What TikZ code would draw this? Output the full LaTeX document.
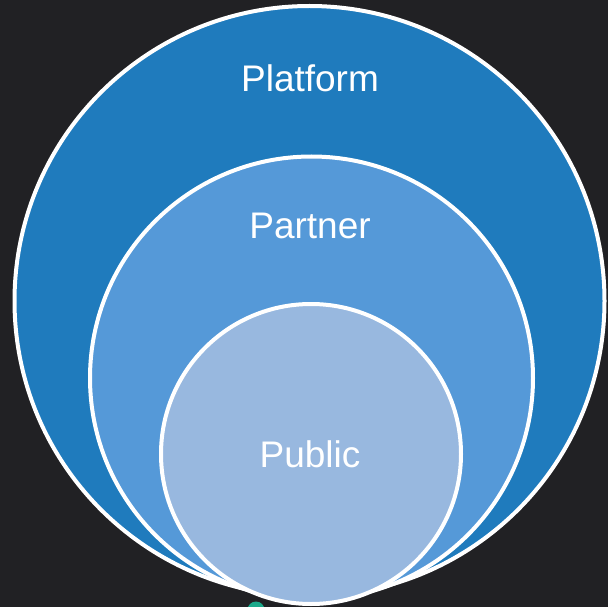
\documentclass[tikz,border=0pt]{standalone}
\usepackage{fontspec}
\setmainfont{Liberation Sans}
\definecolor{bgc}{HTML}{212124}
\definecolor{outerc}{HTML}{1F7BBD}
\definecolor{midc}{HTML}{5599D8}
\definecolor{innerc}{HTML}{98B8DF}
\definecolor{dotc}{HTML}{1BA98A}
\begin{document}
\begin{tikzpicture}[x=1pt,y=-1pt,
  ring/.style={circle, draw=white, line width=4pt, inner sep=0pt, outer sep=0pt},
  lbl/.style={anchor=base, text=white, font=\fontsize{37}{40}\selectfont, inner sep=0pt}]
\fill[bgc] (0,0) rectangle (608,607);
\useasboundingbox (0,0) rectangle (608,607);
\begin{scope}
\clip (0,0) rectangle (608,607);
\node[circle, fill=dotc, minimum size=17pt, inner sep=0pt] (dot) at (256,610) {};
\end{scope}
\node[ring, fill=outerc, minimum size=590pt] (platform) at (309.5,301) {};
\node[ring, fill=midc, minimum size=443pt] (partner) at (311.5,378) {};
\node[ring, fill=innerc, minimum size=300pt] (public) at (311,454) {};
\node[lbl] (tplatform) at (310,92) {Platform};
\node[lbl] (tpartner) at (310,238) {Partner};
\node[lbl] (tpublic) at (310,467) {Public};
\end{tikzpicture}
\end{document}
